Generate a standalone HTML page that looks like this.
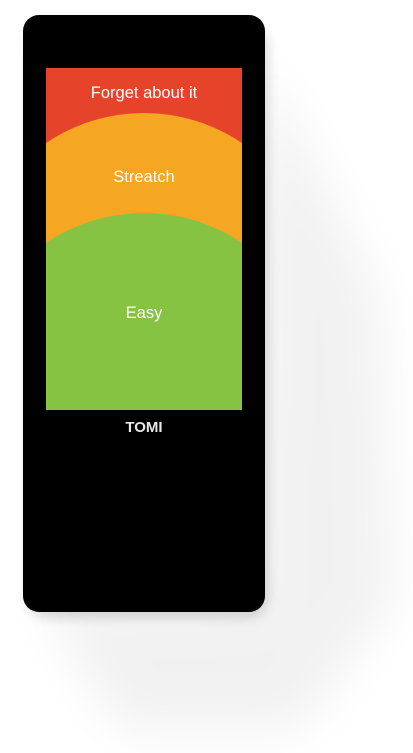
<!DOCTYPE html>
<html><head><meta charset="utf-8"><style>
html,body{margin:0;padding:0;background:#fff;width:413px;height:753px;overflow:hidden;font-family:"Liberation Sans",sans-serif}
#wrap{position:relative;width:413px;height:753px}
</style></head><body>
<div id="wrap">
<svg width="413" height="753" viewBox="0 0 413 753">
<defs>
<filter id="b1" x="-50%" y="-50%" width="200%" height="200%"><feGaussianBlur stdDeviation="24"/></filter>
<filter id="b2" x="-50%" y="-50%" width="200%" height="200%"><feGaussianBlur stdDeviation="6"/></filter>
<clipPath id="scr"><rect x="46" y="68" width="196" height="342"/></clipPath>
</defs>
<g>
<path d="M40 600 L250 600 L265 60 L380 300 L395 600 L300 730 L120 730 Z" fill="#000" opacity="0.05" filter="url(#b1)"/>
<rect x="28" y="26" width="240" height="592" rx="20" fill="#000" opacity="0.15" filter="url(#b2)"/>
</g>
<rect x="23" y="15" width="242" height="597" rx="16" fill="#000"/>
<g id="zones" clip-path="url(#scr)"></g>
<text x="144" y="432" text-anchor="middle" font-family="Liberation Sans, sans-serif" font-weight="bold" font-size="15" fill="#e8e8e8">TOMI</text>
</svg>
</div>
<script>
const zoneLabels = ["Forget about it", "Streatch", "Easy"];
const zoneColors = ["#E5432A", "#F5A623", "#86C343"];
const zoneTops = [68, 113, 213];
const labelY = [98, 182, 318];
const ns = "http://www.w3.org/2000/svg";
const g = document.getElementById("zones");
const cx = 144, R = 175, left = 46, width = 196, bottom = 410;
zoneLabels.forEach((lab, i) => {
  let el;
  if (i === 0) {
    el = document.createElementNS(ns, "rect");
    el.setAttribute("x", left); el.setAttribute("y", zoneTops[i]);
    el.setAttribute("width", width); el.setAttribute("height", bottom - zoneTops[i]);
  } else {
    el = document.createElementNS(ns, "circle");
    el.setAttribute("cx", cx); el.setAttribute("cy", zoneTops[i] + R); el.setAttribute("r", R);
    const r2 = document.createElementNS(ns, "rect");
    r2.setAttribute("x", left); r2.setAttribute("y", zoneTops[i] + R);
    r2.setAttribute("width", width); r2.setAttribute("height", 400);
    r2.setAttribute("fill", zoneColors[i]);
    
    
    g.appendChild(el);
    g.appendChild(r2);
  }
  el.setAttribute("fill", zoneColors[i]);
  
  
  if (i === 0) g.appendChild(el);
});
zoneLabels.forEach((lab, i) => {
  const t = document.createElementNS(ns, "text");
  t.setAttribute("x", cx); t.setAttribute("y", labelY[i]);
  t.setAttribute("text-anchor", "middle");
  t.setAttribute("font-family", "Liberation Sans, sans-serif");
  t.setAttribute("font-size", "16.5");
  t.setAttribute("fill", "#fff");
  t.textContent = lab;
  
  
  g.appendChild(t);
});
</script>
</body></html>
